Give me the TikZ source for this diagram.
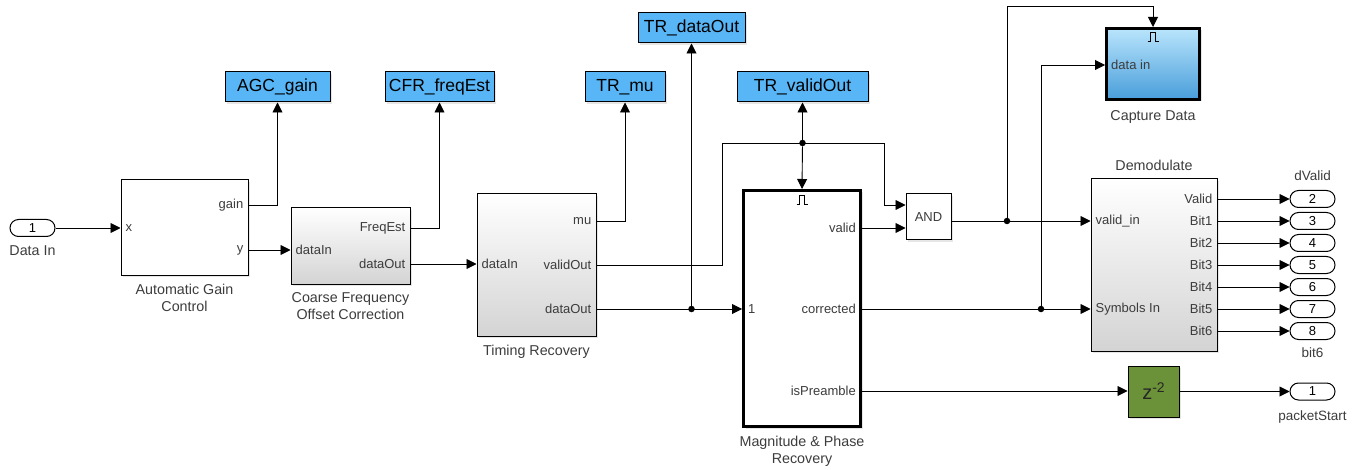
\documentclass[tikz,border=0pt]{standalone}
\usepackage{fontspec}
\setmainfont{Liberation Sans}
\usetikzlibrary{arrows.meta,calc,shadows}

\definecolor{gotoblue}{RGB}{88,182,247}
\definecolor{capTop}{RGB}{185,228,252}
\definecolor{capBot}{RGB}{72,158,218}
\definecolor{delaygreen}{RGB}{107,146,57}
\definecolor{txtgray}{RGB}{60,60,60}

\begin{document}
\begin{tikzpicture}[x=1pt,y=-1pt,
  blk/.style={draw,line width=1pt,fill=white,
    drop shadow={shadow xshift=2pt,shadow yshift=-2pt,opacity=0.2}},
  shadedblk/.style={blk,top color=white,bottom color=black!17},
  thickblk/.style={blk,line width=3pt},
  gototag/.style={blk,fill=gotoblue,minimum height=30pt,inner sep=0pt,
    font=\fontsize{17.5}{20}\selectfont},
  ioport/.style={draw,line width=1pt,fill=white,rounded corners=8.5pt,
    minimum width=45pt,minimum height=17pt,inner sep=0pt,
    font=\fontsize{13}{15}\selectfont},
  portlbl/.style={inner sep=0pt,text=txtgray,font=\fontsize{13}{15}\selectfont},
  blkname/.style={inner sep=0pt,align=center,text=txtgray,
    font=\fontsize{14.3}{17}\selectfont},
  iolabel/.style={inner sep=0pt,text=txtgray,font=\fontsize{13.5}{16}\selectfont},
  sig/.style={line width=0.9pt,-{Triangle[length=10pt,width=10pt]}},
  splitdot/.style={circle,fill=black,inner sep=0pt,minimum size=6.5pt},
  trigmark/.pic={\draw[line width=0.9pt] (-5.5,4.5) -- (-2.5,4.5) -- (-2.5,-4.5)
    -- (2.5,-4.5) -- (2.5,4.5) -- (5.5,4.5);}
]
\useasboundingbox (0,0) rectangle (1359,470);

% input and AGC
\node[ioport] (datain) at (32.5,228) {1};
\node[blkname,below=8pt] at (datain.south) {Data In};

\node[blk,minimum width=127pt,minimum height=95pt] (agc) at (184.5,227.5) {};
\node[blkname,below=8pt] at (agc.south) {Automatic Gain\\Control};
\node[portlbl,anchor=west,xshift=5pt] (agcx) at (agc.west |- 0,228) {x};
\node[portlbl,anchor=east,xshift=-5pt] (agcgain) at (agc.east |- 0,205) {gain};
\node[portlbl,anchor=east,xshift=-5pt] (agcy) at (agc.east |- 0,250) {y};

% coarse frequency correction
\node[shadedblk,minimum width=119pt,minimum height=76pt] (cfr) at (350.5,246) {};
\node[blkname,below=8pt] at (cfr.south) {Coarse Frequency\\Offset Correction};
\node[portlbl,anchor=west,xshift=5pt] (cfrin) at (cfr.west |- 0,250) {dataIn};
\node[portlbl,anchor=east,xshift=-5pt] (cfrfreq) at (cfr.east |- 0,228) {FreqEst};
\node[portlbl,anchor=east,xshift=-5pt] (cfrout) at (cfr.east |- 0,264) {dataOut};

% timing recovery
\node[shadedblk,minimum width=119pt,minimum height=142pt] (tr) at (536.5,265) {};
\node[blkname,below=8pt] at (tr.south) {Timing Recovery};
\node[portlbl,anchor=west,xshift=5pt] (trin) at (tr.west |- 0,264) {dataIn};
\node[portlbl,anchor=east,xshift=-5pt] (trmu) at (tr.east |- 0,221) {mu};
\node[portlbl,anchor=east,xshift=-5pt] (trvout) at (tr.east |- 0,265) {validOut};
\node[portlbl,anchor=east,xshift=-5pt] (trdout) at (tr.east |- 0,309) {dataOut};

% magnitude and phase recovery
\node[thickblk,minimum width=117pt,minimum height=236pt] (mpr) at (802,308.5) {};
\node[blkname,below=8pt] at (mpr.south) {Magnitude \& Phase\\Recovery};
\pic at ($(mpr.north)+(0,11)$) {trigmark};
\node[portlbl,anchor=west,xshift=6pt] (mprin) at (mpr.west |- 0,309) {1};
\node[portlbl,anchor=east,xshift=-6pt] (mprvalid) at (mpr.east |- 0,228) {valid};
\node[portlbl,anchor=east,xshift=-6pt] (mprcorr) at (mpr.east |- 0,309) {corrected};
\node[portlbl,anchor=east,xshift=-6pt] (mprpre) at (mpr.east |- 0,391) {isPreamble};

% logic, capture, demodulation, delay
\node[blk,minimum width=45pt,minimum height=46pt,portlbl,text=txtgray] (and) at (928.5,217) {AND};
\coordinate (andin1) at ($(and.west)+(0,-12)$);
\coordinate (andin2) at ($(and.west)+(0,11)$);

\node[thickblk,top color=capTop,bottom color=capBot,minimum width=93pt,minimum height=71pt] (capture) at (1153,64) {};
\node[blkname,below=9pt] at (capture.south) {Capture Data};
\pic at ($(capture.north)+(0,10)$) {trigmark};
\node[portlbl,anchor=west,xshift=6pt] (capdin) at (capture.west |- 0,65) {data in};

\node[shadedblk,minimum width=126pt,minimum height=172pt] (demod) at (1154,265) {};
\node[blkname,above=8pt] at (demod.north) {Demodulate};
\node[portlbl,anchor=west,xshift=5pt] (demvin) at (demod.west |- 0,221) {valid\_in};
\node[portlbl,anchor=west,xshift=5pt] (demsym) at (demod.west |- 0,309) {Symbols In};

\node[blk,fill=delaygreen,minimum width=51pt,minimum height=51pt,inner sep=0pt,
  font=\fontsize{20}{20}\selectfont,text=black!85] (delay) at (1153.5,391.5)
  {z\raisebox{7pt}{\fontsize{14}{14}\selectfont -2}};
\node[ioport] (pktout) at (1312.5,391.5) {1};
\node[iolabel,below=10pt] at (pktout.south) {packetStart};

% demodulator outputs
\foreach \lab [count=\k, evaluate=\k as \num using int(\k+1)] in {Valid,Bit1,Bit2,Bit3,Bit4,Bit5,Bit6}{
  \node[portlbl,anchor=east,xshift=-5pt] (dout\k) at ($(demod.east)+(0,{(\k-4)*22})$) {\lab};
  \node[ioport] (out\k) at (1312.5,{265+(\k-4)*22}) {\num};
  \draw[sig] (demod.east |- dout\k) -- (out\k.west);
}
\node[iolabel,above=9pt] at (out1.north) {dValid};
\node[iolabel,below=8pt] at (out7.south) {bit6};

% goto tags
\node[gototag,minimum width=105pt] (agcgoto) at (277.5,87) {AGC\_gain};
\node[gototag,minimum width=109pt] (cfrgoto) at (439.5,87) {CFR\_freqEst};
\node[gototag,minimum width=80pt] (trmugoto) at (625,87) {TR\_mu};
\node[gototag,minimum width=107pt] (trdgoto) at (691.5,28) {TR\_dataOut};
\node[gototag,minimum width=131pt] (trvgoto) at (802.5,87) {TR\_validOut};

% signal lines
\draw[sig] (datain.east) -- (agc.west |- agcx);
\draw[sig] (agc.east |- agcgain) -| (agcgoto.south);
\draw[sig] (agc.east |- agcy) -- (cfr.west |- cfrin);
\draw[sig] (cfr.east |- cfrfreq) -| (cfrgoto.south);
\draw[sig] (cfr.east |- cfrout) -- (tr.west |- trin);
\draw[sig] (tr.east |- trmu) -| (trmugoto.south);

\draw[sig] (tr.east |- trdout) -- (mpr.west |- mprin);
\node[splitdot] (dsplit) at (trdgoto.south |- trdout) {};
\draw[sig] (dsplit) -- (trdgoto.south);

\draw[sig] (tr.east |- trvout) -| (722,143) -- (884,143) |- (andin1);
\node[splitdot] (vsplit) at (trvgoto.south |- 0,143) {};
\draw[sig] (vsplit) -- (trvgoto.south);
\draw[sig] (vsplit) -- (mpr.north);

\draw[sig] (mpr.east |- mprvalid) -- (andin2);
\draw[sig] (and.east |- demvin) -- (demod.west |- demvin);
\node[splitdot] (asplit) at (1007,221) {};
\draw[sig] (asplit) -- (asplit |- 0,6) -| (capture.north);

\draw[sig] (mpr.east |- mprcorr) -- (demod.west |- demsym);
\node[splitdot] (csplit) at (1041,309) {};
\draw[sig] (csplit) |- (capture.west |- capdin);

\draw[sig] (mpr.east |- mprpre) -- (delay.west |- mprpre);
\draw[sig] (delay.east) -- (pktout.west);
\end{tikzpicture}
\end{document}
